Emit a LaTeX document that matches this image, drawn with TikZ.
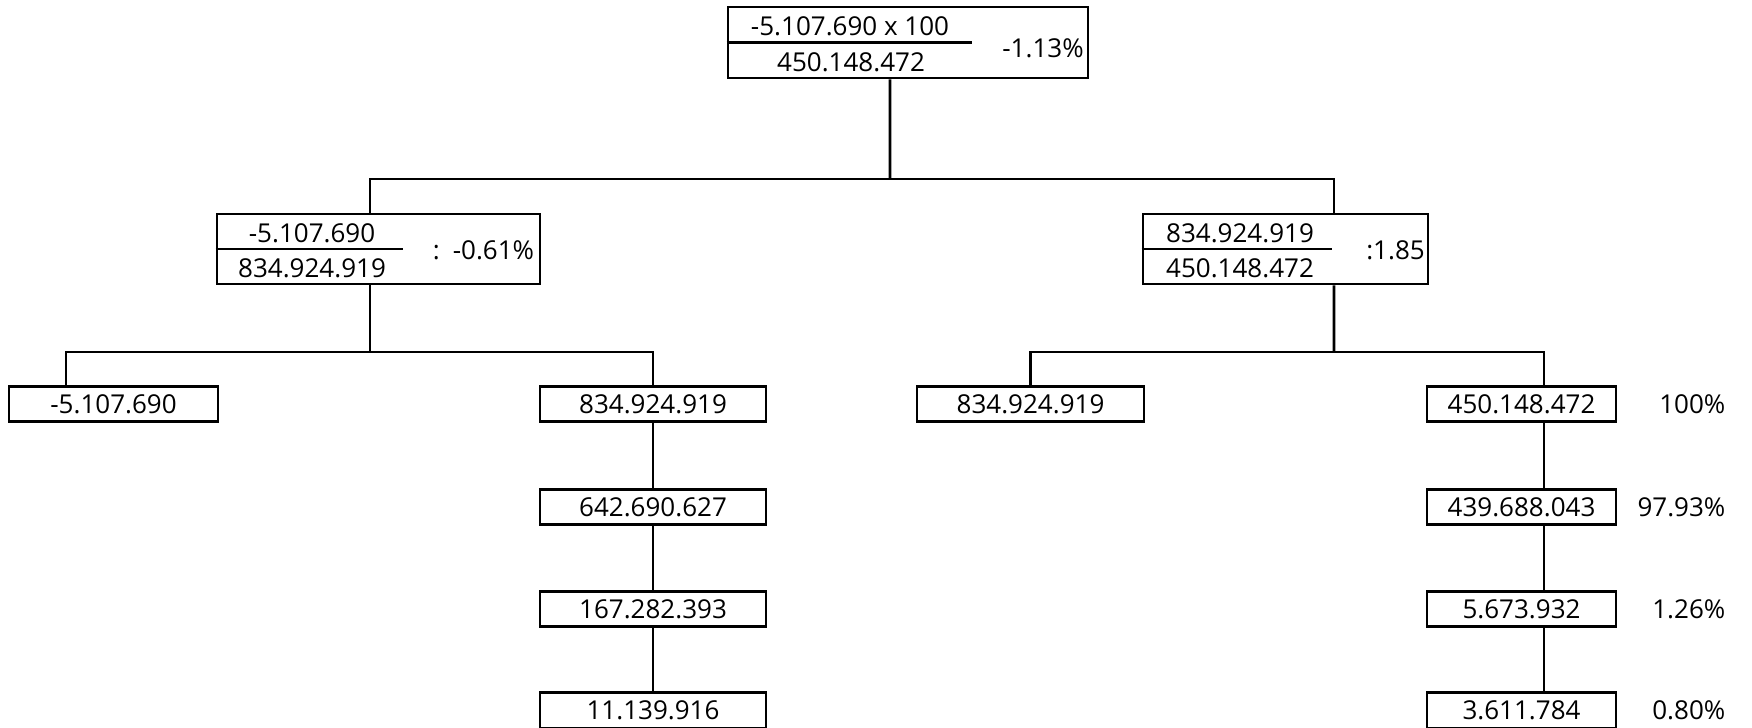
\documentclass[tikz,border=0pt]{standalone}
\usepackage{fontspec}
\setmainfont{Open Sans}
\usepackage{tikz}
\usetikzlibrary{positioning}

\begin{document}
\begin{tikzpicture}[
        box/.style={rectangle, draw=black, line width=0.8pt, minimum height=0.355cm, inner sep=0pt},
        fracbox/.style={rectangle, draw=black, line width=0.8pt, minimum height=0.70cm, inner sep=0pt},
        num/.style={inner sep=0pt, font=\fontsize{7.4}{9}\selectfont},
        link/.style={line width=0.8pt},
    ]
        \useasboundingbox (0,0) rectangle (17.52,-7.28);

        % top ratio
        \node[fracbox, minimum width=3.6cm, minimum height=0.71cm] (top) at (9.08,-0.425) {};
        \node[num] (topnum) at (8.50,-0.265) {-5.107.690 x 100};
        \node[num] (topden) at (8.51,-0.625) {450.148.472};
        \node[num] (topval) at (10.43,-0.48) {-1.13\%};
        \draw[link] (top.west) -- ++(2.45,0);

        % second level
        \node[fracbox, minimum width=3.23cm] (lmid) at (3.785,-2.49) {};
        \node[num] (lnum) at (3.12,-2.335) {-5.107.690};
        \node[num] (lden) at (3.12,-2.685) {834.924.919};
        \node[num] (lval) at (4.835,-2.50) {:\hspace{0.13cm}-0.61\%};
        \draw[link] (lmid.west) -- ++(1.87,0);

        \node[fracbox, minimum width=2.85cm] (rmid) at (12.855,-2.49) {};
        \node[num] (rnum) at (12.40,-2.335) {834.924.919};
        \node[num] (rden) at (12.40,-2.685) {450.148.472};
        \node[num] (rval) at (13.955,-2.50) {:1.85};
        \draw[link] (rmid.west) -- ++(1.90,0);

        % leaves
        \node[box, minimum width=2.09cm] (neg) at (1.135,-4.04) {\fontsize{7.4}{9}\selectfont -5.107.690};
        \node[box, minimum width=2.26cm] (r1) at (6.53,-4.04) {\fontsize{7.4}{9}\selectfont 834.924.919};
        \node[box, minimum width=2.26cm] (r2) at (6.53,-5.07) {\fontsize{7.4}{9}\selectfont 642.690.627};
        \node[box, minimum width=2.26cm] (r3) at (6.53,-6.09) {\fontsize{7.4}{9}\selectfont 167.282.393};
        \node[box, minimum width=2.26cm] (r4) at (6.53,-7.105) {\fontsize{7.4}{9}\selectfont 11.139.916};

        \node[box, minimum width=2.27cm] (m1) at (10.305,-4.04) {\fontsize{7.4}{9}\selectfont 834.924.919};
        \node[box, minimum width=1.89cm] (p1) at (15.215,-4.04) {\fontsize{7.4}{9}\selectfont 450.148.472};
        \node[box, minimum width=1.89cm] (p2) at (15.215,-5.07) {\fontsize{7.4}{9}\selectfont 439.688.043};
        \node[box, minimum width=1.89cm] (p3) at (15.215,-6.09) {\fontsize{7.4}{9}\selectfont 5.673.932};
        \node[box, minimum width=1.89cm] (p4) at (15.215,-7.105) {\fontsize{7.4}{9}\selectfont 3.611.784};

        \node[num, anchor=east] (pct1) at (17.26,-4.04) {100\%};
        \node[num, anchor=east] (pct2) at (17.26,-5.07) {97.93\%};
        \node[num, anchor=east] (pct3) at (17.26,-6.09) {1.26\%};
        \node[num, anchor=east] (pct4) at (17.26,-7.105) {0.80\%};

        % connectors
        \coordinate (hub) at (8.90,-1.79);
        \coordinate (hubL) at (3.70,-3.52);
        \coordinate (hubR) at (13.34,-3.52);

        \draw[link] ([xshift=-0.18cm]top.south) -- (hub);
        \draw[link] ([xshift=-0.085cm]lmid.north) |- (hub) -| ([xshift=0.485cm]rmid.north);

        \draw[link] ([xshift=-0.085cm]lmid.south) -- (hubL);
        \draw[link] ([xshift=-0.475cm]neg.north) |- (hubL) -| (r1.north);
        \draw[link] (r1.south) -- (r2.north);
        \draw[link] (r2.south) -- (r3.north);
        \draw[link] (r3.south) -- (r4.north);

        \draw[link] ([xshift=0.485cm]rmid.south) -- (hubR);
        \draw[link] (m1.north) |- (hubR) -| ([xshift=0.225cm]p1.north);
        \draw[link] ([xshift=0.225cm]p1.south) -- ([xshift=0.225cm]p2.north);
        \draw[link] ([xshift=0.225cm]p2.south) -- ([xshift=0.225cm]p3.north);
        \draw[link] ([xshift=0.225cm]p3.south) -- ([xshift=0.225cm]p4.north);
    \end{tikzpicture}
\end{document}
